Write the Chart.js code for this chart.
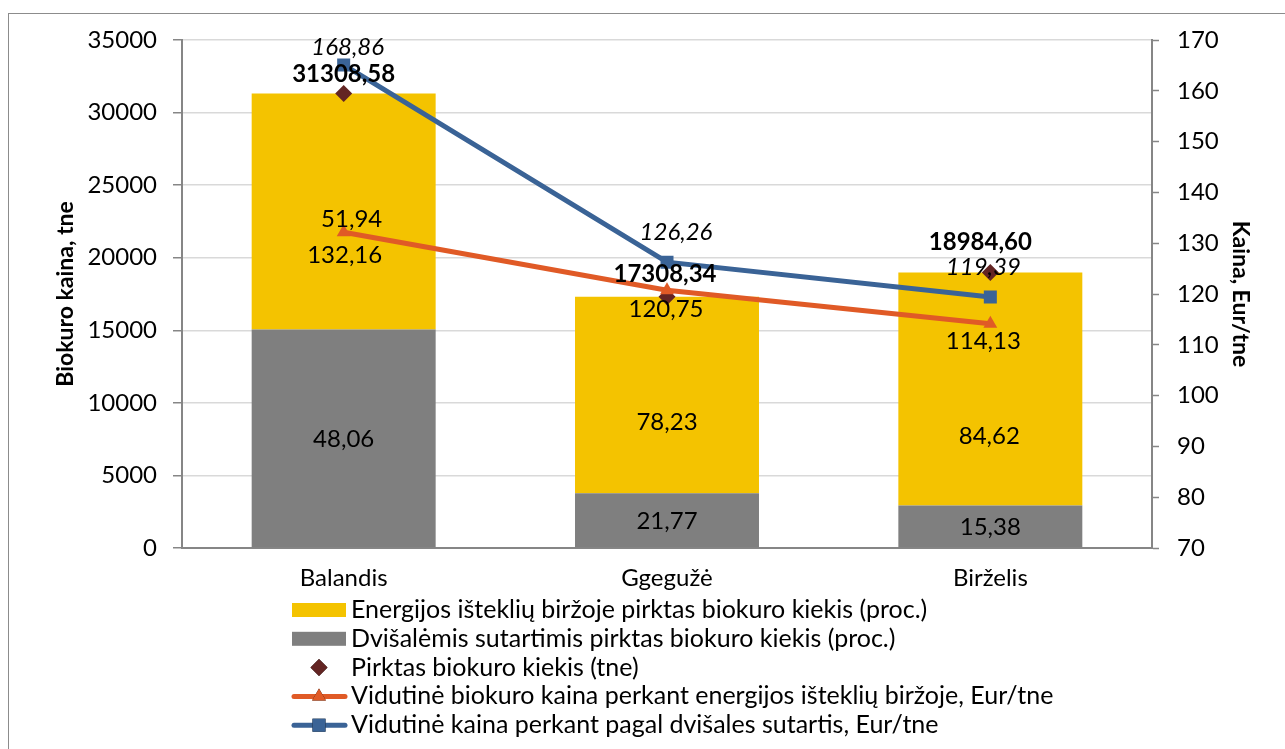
<!DOCTYPE html>
<html><head><meta charset="utf-8">
<script src="https://cdn.jsdelivr.net/npm/chart.js@4"></script>
<style>
html,body{margin:0;padding:0;background:#fff;overflow:hidden;}
#wrap{position:relative;width:1285px;height:749px;overflow:hidden;}
#frame{position:absolute;left:8px;top:13px;width:1400px;height:900px;border:1.5px solid #8c8c8c;box-sizing:border-box;pointer-events:none;}
canvas{position:absolute;left:0;top:0;}
</style></head><body>
<div id="wrap"><canvas id="c" width="1285" height="749"></canvas><div id="frame"></div></div>
<script>
// ---- data ----
const categories = ['Balandis', 'Ggegužė', 'Birželis'];
const exchangeTonnes = [16262, 13540, 16065];     // yellow segment (tne)
const bilateralTonnes = [15047, 3768, 2920];      // gray segment (tne)
const exchangePct = [51.94, 78.23, 84.62];
const bilateralPct = [48.06, 21.77, 15.38];
const totalTonnes = [31308.58, 17308.34, 18984.60];
const exchangePrice = [132.16, 120.75, 114.13];
const bilateralPrice = [165.1, 126.26, 119.39];   // plotted positions
const bilateralPriceLabels = [168.86, 126.26, 119.39]; // printed labels
const leftTicks = [0, 5000, 10000, 15000, 20000, 25000, 30000, 35000];
const rightTicks = [70, 80, 90, 100, 110, 120, 130, 140, 150, 160, 170];
const legendNames = [
  'Energijos išteklių biržoje pirktas biokuro kiekis (proc.)',
  'Dvišalėmis sutartimis pirktas biokuro kiekis (proc.)',
  'Pirktas biokuro kiekis (tne)',
  'Vidutinė biokuro kaina perkant energijos išteklių biržoje, Eur/tne',
  'Vidutinė kaina perkant pagal dvišales sutartis, Eur/tne'
];

const FONT = 'Lato, "Open Sans", sans-serif';
const fmt = v => v.toFixed(2).replace('.', ',');

const C_YELLOW = '#F4C300', C_GRAY = '#7F7F7F', C_DIAM = '#632523',
      C_ORANGE = '#E05A26', C_BLUE = '#3A6396';

const datasets = [
  { type:'bar', label: legendNames[1], data: bilateralTonnes, backgroundColor: C_GRAY,
    yAxisID:'y', stack:'s', order:3,
    valueLabel:{ texts: bilateralPct.map(fmt), mode:'segment', offsets:[[0,1],[0,1],[0,1]], font:'24px '+FONT } },
  { type:'bar', label: legendNames[0], data: exchangeTonnes, backgroundColor: C_YELLOW,
    yAxisID:'y', stack:'s', order:4,
    valueLabel:{ texts: exchangePct.map(fmt), mode:'segment', offsets:[[8,8],[0,27],[-1,47]], font:'24px '+FONT } },
  { type:'line', label: legendNames[2], data: totalTonnes, yAxisID:'y', stack:'t', order:2,
    showLine:false, pointStyle:'rectRot', pointRadius:8.5, backgroundColor:C_DIAM, borderColor:C_DIAM, borderWidth:0,
    valueLabel:{ texts: totalTonnes.map(fmt), mode:'point', offsets:[[0,-19],[-2,-23],[-10,-30]], font:'bold 24px '+FONT } },
  { type:'line', label: legendNames[3], data: exchangePrice, yAxisID:'y1', order:1,
    borderColor:C_ORANGE, backgroundColor:C_ORANGE, borderWidth:5, pointStyle:'triangle', pointRadius:8, pointBorderWidth:0,
    valueLabel:{ texts: exchangePrice.map(fmt), mode:'point', offsets:[[1,23],[-1,19],[-7,17]], font:'24px '+FONT } },
  { type:'line', label: legendNames[4], data: bilateralPrice, yAxisID:'y1', order:0,
    borderColor:C_BLUE, backgroundColor:C_BLUE, borderWidth:5, pointStyle:'rect', pointRadius:9.2, pointBorderWidth:0,
    valueLabel:{ texts: bilateralPriceLabels.map(fmt), mode:'point', offsets:[[4,-18],[9,-30],[-7,-30]], font:'italic 24px '+FONT } }
];

const valueLabels = {
  id:'valueLabels',
  afterDatasetsDraw(chart) {
    const ctx = chart.ctx;
    ctx.save();
    ctx.fillStyle = '#000';
    ctx.textAlign = 'center';
    ctx.textBaseline = 'middle';
    chart.data.datasets.forEach((ds, di) => {
      const vl = ds.valueLabel; if (!vl) return;
      const meta = chart.getDatasetMeta(di);
      ctx.font = vl.font;
      meta.data.forEach((el, i) => {
        const cx = el.x, cy = vl.mode === 'segment' ? (el.y + el.base) / 2 : el.y;
        const [dx, dy] = vl.offsets[i];
        ctx.fillText(vl.texts[i], cx + dx, cy + dy);
      });
    });
    ctx.restore();
  }
};

const customLegend = {
  id:'customLegend',
  afterDraw(chart) {
    const ctx = chart.ctx;
    const order = [1, 0, 2, 3, 4];
    const x0 = 292, x1 = 346, tx = 351, y0 = 610, step = 28.8;
    ctx.save();
    order.forEach((di, row) => {
      const ds = chart.data.datasets[di];
      const y = y0 + row * step;
      const xm = (x0 + x1) / 2;
      if (ds.type === 'bar') {
        ctx.fillStyle = ds.backgroundColor;
        ctx.fillRect(x0, y - 7, x1 - x0, 14);
      } else {
        if (ds.showLine !== false) {
          ctx.strokeStyle = ds.borderColor; ctx.lineWidth = 5; ctx.lineCap = 'round';
          ctx.beginPath(); ctx.moveTo(x0 + 2, y); ctx.lineTo(x1 - 1, y); ctx.stroke();
        }
        Chart.helpers.drawPoint(ctx, { pointStyle: ds.pointStyle, radius: ds.pointRadius, rotation: 0, borderWidth: 0 }, xm, y);
        ctx.fillStyle = ds.backgroundColor;
        ctx.fill();
      }
      ctx.fillStyle = '#000';
      ctx.font = '25px ' + FONT;
      ctx.textAlign = 'left'; ctx.textBaseline = 'middle';
      ctx.fillText(ds.label, tx, y);
    });
    ctx.restore();
  }
};

new Chart(document.getElementById('c'), {
  data: { labels: categories, datasets },
  options: {
    responsive:false, animation:false, events:[],
    layout:{ padding:{ top:40, left:0, right:0, bottom:0 } },
    plugins:{ legend:{ display:false }, tooltip:{ enabled:false } },
    datasets:{ bar:{ barPercentage:0.569, categoryPercentage:1.0 } },
    scales:{
      x:{ stacked:true, offset:true,
        grid:{ display:false, drawTicks:false },
        border:{ display:true, color:'#868686', width:2 },
        ticks:{ font:{ family:FONT, size:24 }, color:'#000', padding:16 },
        afterFit: s => { s.height = 201; } },
      y:{ position:'left', stacked:true,
        min: leftTicks[0], max: leftTicks[leftTicks.length-1],
        afterBuildTicks: s => { s.ticks = leftTicks.map(v => ({ value:v })); },
        grid:{ color:'#D9D9D9', lineWidth:1.5, tickLength:9, tickColor:'#868686', tickWidth:1.5 },
        border:{ color:'#868686', width:2 },
        ticks:{ font:{ family:FONT, size:24 }, color:'#000', padding:16, callback: v => String(v) },
        title:{ display:true, text:'Biokuro kaina, tne', font:{ family:FONT, size:23, weight:'bold' }, color:'#000', padding:{ top:52, bottom:0 } },
        afterFit: s => { s.width = 182; } },
      y1:{ position:'right',
        min: rightTicks[0], max: rightTicks[rightTicks.length-1],
        afterBuildTicks: s => { s.ticks = rightTicks.map(v => ({ value:v })); },
        grid:{ drawOnChartArea:false, tickLength:7, tickColor:'#868686', tickWidth:1.5 },
        border:{ color:'#868686', width:2 },
        ticks:{ font:{ family:FONT, size:24 }, color:'#000', padding:18, callback: v => String(v) },
        title:{ display:true, text:'Kaina, Eur/tne', font:{ family:FONT, size:23, weight:'bold' }, color:'#000', padding:{ top:31, bottom:0 } },
        afterFit: s => { s.width = 133; } }
    }
  },
  plugins:[ valueLabels, customLegend ]
});
</script>
</body></html>
